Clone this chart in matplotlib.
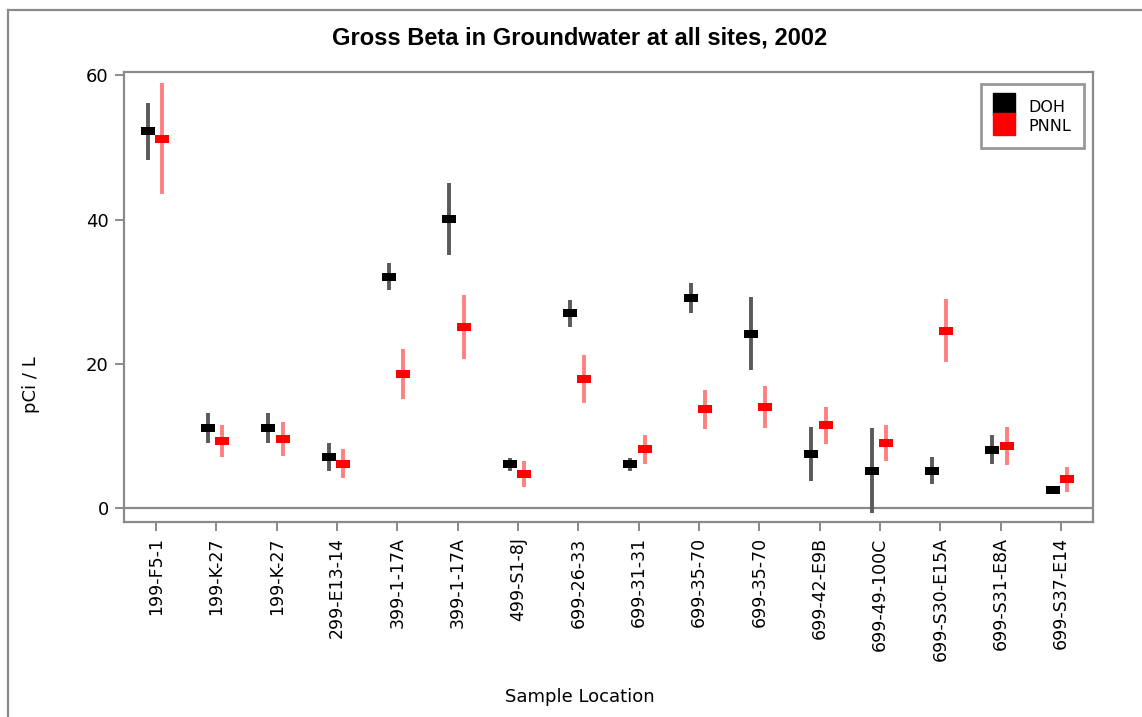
import matplotlib
matplotlib.use("Agg")
import matplotlib.pyplot as plt
from matplotlib.lines import Line2D
import numpy as np

# ---- data ----
locations = ["199-F5-1", "199-K-27", "199-K-27", "299-E13-14", "399-1-17A",
             "399-1-17A", "499-S1-8J", "699-26-33", "699-31-31", "699-35-70",
             "699-35-70", "699-42-E9B", "699-49-100C", "699-S30-E15A",
             "699-S31-E8A", "699-S37-E14"]
doh_val = [52.2, 11.1, 11.1, 7.1, 32.1, 40.1, 6.1, 27.0, 6.1, 29.1,
           24.2, 7.5, 5.2, 5.2, 8.1, 2.6]
doh_err = [4.0, 2.1, 2.1, 1.9, 1.9, 5.0, 0.9, 1.9, 0.9, 2.1,
           5.1, 3.7, 5.9, 1.9, 2.0, 0.2]
pnnl_val = [51.2, 9.3, 9.6, 6.2, 18.6, 25.1, 4.7, 17.9, 8.2, 13.7,
            14.0, 11.5, 9.0, 24.6, 8.6, 4.0]
pnnl_err = [7.7, 2.2, 2.4, 2.0, 3.5, 4.4, 1.8, 3.3, 2.0, 2.7,
            2.9, 2.6, 2.5, 4.4, 2.6, 1.7]
yticks = [0, 20, 40, 60]

W, H = 1142, 717
fig = plt.figure(figsize=(W / 100, H / 100), dpi=100)
fig.patch.set_facecolor("white")

# outer border (top and left visible)
fig.add_artist(Line2D([8 / W, 1.0], [1 - 10 / H, 1 - 10 / H], transform=fig.transFigure,
                      color="#8a8a8a", lw=1.6))
fig.add_artist(Line2D([8 / W, 8 / W], [0, 1 - 10 / H], transform=fig.transFigure,
                      color="#8a8a8a", lw=1.6))

left, right, top, bottom = 124, 1093, 72.3, 522
ax = fig.add_axes([left / W, 1 - bottom / H, (right - left) / W, (bottom - top) / H])

x = np.arange(len(locations))
rect = [(-1, -0.55), (1, -0.55), (1, 0.55), (-1, 0.55), (-1, -0.55)]

ax.axhline(0, color="#8a8a8a", lw=1.6, zorder=1)

ax.errorbar(x - 0.14, doh_val, yerr=doh_err, fmt="none", ecolor="#5a5a5a",
            elinewidth=2.8, capsize=0, zorder=2)
ax.errorbar(x + 0.10, pnnl_val, yerr=pnnl_err, fmt="none", ecolor="#ff8080",
            elinewidth=2.8, capsize=0, zorder=2)
ax.plot(x - 0.14, doh_val, linestyle="none", marker=rect, markersize=10.5,
        color="black", markeredgewidth=0, zorder=3)
ax.plot(x + 0.10, pnnl_val, linestyle="none", marker=rect, markersize=10.5,
        color="#ff0000", markeredgewidth=0, zorder=3)

ax.set_xlim(-0.53, 15.53)
ax.set_ylim(-1.9, 60.4)
ax.set_xticks(x)
ax.set_xticklabels(locations, rotation=90, fontsize=12.5, family="DejaVu Sans")
ax.set_yticks(yticks)
ax.set_yticklabels([str(v) for v in yticks], fontsize=13, family="DejaVu Sans")
ax.tick_params(axis="both", length=6.5, width=1.4, color="#8a8a8a", pad=4.5)

for s in ax.spines.values():
    s.set_color("#8a8a8a")
    s.set_linewidth(1.6)

ax.set_ylabel("pCi / L", fontsize=13, family="DejaVu Sans")
ax.yaxis.set_label_coords((40 - left) / (right - left), (bottom - 385) / (bottom - top))

fig.text(580 / W, 1 - 697 / H, "Sample Location", ha="center", va="center",
         fontsize=13, family="DejaVu Sans")
fig.text(580 / W, 1 - 38 / H, "Gross Beta in Groundwater at all sites, 2002",
         ha="center", va="center", fontsize=17, fontweight="bold",
         family=["Liberation Sans", "DejaVu Sans"])

handles = [Line2D([], [], linestyle="none", marker="s", markersize=15.5, color="black"),
           Line2D([], [], linestyle="none", marker="s", markersize=15.5, color="#ff0000")]
leg = ax.legend(handles, ["DOH", "PNNL"], loc="upper right",
                bbox_to_anchor=((1084 - left) / (right - left), (bottom - 84) / (bottom - top)),
                borderaxespad=0, fancybox=False, framealpha=1, edgecolor="#999999",
                prop={"family": "DejaVu Sans", "size": 11.5},
                handlelength=1.25, handleheight=1.45, handletextpad=0.9,
                labelspacing=0.05, borderpad=0.8)
leg.get_frame().set_linewidth(2)

fig.savefig("out.png", dpi=100, facecolor="white")
